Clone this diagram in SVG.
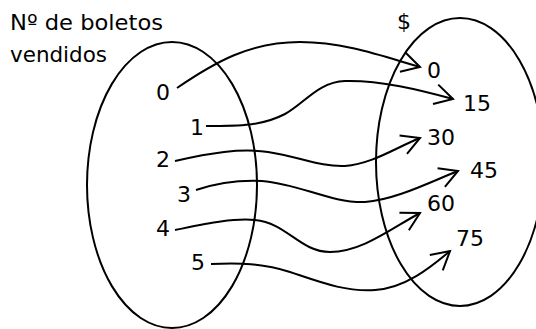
<svg xmlns="http://www.w3.org/2000/svg" width="536" height="329" viewBox="0 0 536 329">
<style>
text{font-family:"DejaVu Sans","Noto Sans",sans-serif;font-size:22px;fill:#000}
.set{fill:none;stroke:#000;stroke-width:2}
.c{fill:none;stroke:#000;stroke-width:2;marker-end:url(#arr)}
</style>
<defs>
<marker id="arr" markerUnits="userSpaceOnUse" markerWidth="24" markerHeight="24" refX="0" refY="0" viewBox="-20 -12 24 24" orient="auto" overflow="visible">
<path d="M-18,-10 L0,0 L-18,10" fill="none" stroke="#000" stroke-width="2"/>
</marker>
</defs>
<rect width="536" height="329" fill="#fff"/>
<g id="title-left">
<text x="10" y="30" textLength="153" lengthAdjust="spacingAndGlyphs">Nº de boletos</text>
<text x="10" y="62" textLength="97" lengthAdjust="spacingAndGlyphs">vendidos</text>
</g>
<g id="title-right"><text x="397" y="29">$</text></g>
<g id="set-left">
<ellipse class="set" cx="172" cy="185" rx="85" ry="143"/>
<text x="156" y="100">0</text>
<text x="190" y="135">1</text>
<text x="156" y="167">2</text>
<text x="177" y="202">3</text>
<text x="156" y="236">4</text>
<text x="191" y="270">5</text>
</g>
<g id="set-right">
<ellipse class="set" cx="460" cy="162" rx="84" ry="144"/>
<text x="427" y="78">0</text>
<text x="463" y="111">15</text>
<text x="427" y="145">30</text>
<text x="470" y="178">45</text>
<text x="427" y="211">60</text>
<text x="456" y="246">75</text>
</g>
<g id="connectors">
<path class="c" d="M177,88 C215,62 250,42 300,42 C345,42 385,57 420,67"/>
<path class="c" d="M206,126 C240,126 262,126 285,114 C305,103 318,82 345,81 C380,80 420,90 453,99"/>
<path class="c" d="M175,161 C210,153 240,148 268,152 C300,157 320,167 345,166 C372,164 395,148 420,138"/>
<path class="c" d="M196,190 C220,182 240,180 262,181 C300,184 330,203 365,202 C395,200 430,182 458,171"/>
<path class="c" d="M175,230 C205,224 232,218 255,220 C287,223 300,252 330,252 C362,252 392,228 420,213"/>
<path class="c" d="M211,264 C240,263 262,263 290,272 C320,282 345,292 375,290 C405,288 430,268 450,251"/>
</g>
</svg>
